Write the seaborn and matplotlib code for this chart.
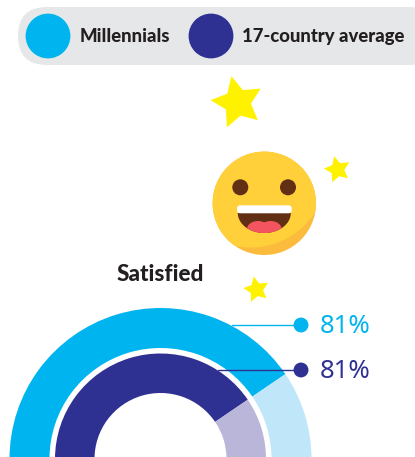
import numpy as np
import seaborn as sns
import pandas as pd
import matplotlib.pyplot as plt
from matplotlib.patches import Circle, Ellipse, FancyBboxPatch, Polygon

# Data
groups = ['Millennials', '17-country average']
satisfied = [81, 81]
title = 'Satisfied'

colors = ['#00b5ef', '#2e3192']
pale_colors = ['#c0e6fa', '#b9b6da']

W, H = 415, 457
sns.set_theme(style='white')
plt.rcParams['font.family'] = ['Lato', 'DejaVu Sans']

fig = plt.figure(figsize=(W / 100, H / 100), dpi=100)
ax = fig.add_axes([0, 0, 1, 1])


def up(y):
    # picture pixels count down from the top, the axes count up
    return H - y


# half donuts, the third slice is the hidden lower half
cx, cy = 160.5, up(459)
rings = [(151, 40), (105.5, 39.5)]
for val, col, pale, (rad, wid) in zip(satisfied, colors, pale_colors, rings):
    ax.pie([val, 100 - val, 100], colors=[col, pale, 'none'], center=(cx, cy), radius=rad,
           startangle=180, counterclock=False, frame=True,
           wedgeprops={'width': wid, 'linewidth': 0})

# legend bar
ax.add_patch(FancyBboxPatch((18, up(65)), 420, 58, boxstyle='round,pad=0,rounding_size=29',
                            fc='#e6e7e8', ec='none'))
legend_df = pd.DataFrame({'x': [48, 211], 'y': [up(36), up(36)], 'group': groups})
sns.scatterplot(data=legend_df, x='x', y='y', hue='group', palette=colors, s=1040,
                linewidth=0, legend=False, ax=ax, zorder=3)
for lx, name in zip([80, 242], groups):
    ax.text(lx, up(42), name, fontsize=13.3, fontweight='black', color='#231f20',
            ha='left', va='baseline')

# leader lines and values
label_y = [325, 370]
line_start = [232, 218]
label_df = pd.DataFrame({'x': [301, 301], 'y': [up(v) for v in label_y], 'group': groups})
for ly, lx, col in zip(label_y, line_start, colors):
    ax.plot([lx, 301], [up(ly), up(ly)], color=col, lw=1, zorder=3)
sns.scatterplot(data=label_df, x='x', y='y', hue='group', palette=colors, s=115,
                linewidth=0, legend=False, ax=ax, zorder=4)
for ly, val, col in zip(label_y, satisfied, colors):
    ax.text(320, up(ly + 8), f'{val}%', fontsize=18.5, color=col, ha='left', va='baseline',
            family=['Noto Sans', 'DejaVu Sans'])

ax.text(160.5, up(281), title, fontsize=16.2, fontweight='black', color='#231f20',
        ha='center', va='baseline')

# stars
for sx, sy, rad, ang in [(236.7, 101.6, 27, 13), (337.4, 169.3, 13.7, 14), (256.4, 289.1, 13.3, 12)]:
    ax.scatter([sx], [up(sy)], marker=(5, 1, ang), s=(2 * rad * 0.72) ** 2, color='#fff200',
               linewidths=0, zorder=3)

# smiley
fx, fy = 264.3, up(203.3)
face = Circle((fx, fy), 51.7, fc='#fbbc3d', ec='none', zorder=3)
ax.add_patch(face)
front = Circle((250.9, up(171.8)), 75.7, fc='#ffd039', ec='none', zorder=3.1)
ax.add_patch(front)
front.set_clip_path(face)
for ex in [240.3, 288]:
    ax.add_patch(Circle((ex, up(187.3)), 8, fc='#602f14', ec='none', zorder=3.2))

t = np.linspace(0, np.pi, 60)
mouth_y = up(213)
mouth = Polygon(np.column_stack([fx + 26.5 * np.cos(t), mouth_y - 20 * np.sin(t)]),
                fc='#602f14', ec='none', zorder=3.2)
ax.add_patch(mouth)
for tx in [258, 270.6]:
    tongue = Ellipse((tx, up(229)), 22, 16, fc='#f4545f', ec='none', zorder=3.3)
    ax.add_patch(tongue)
    tongue.set_clip_path(mouth)
ax.add_patch(FancyBboxPatch((237, up(213.3)), 54.7, 8, boxstyle='round,pad=0,rounding_size=3',
                            fc='white', ec='none', zorder=3.4))

ax.set_xlim(0, W)
ax.set_ylim(0, H)
ax.set_aspect('auto')
ax.axis('off')

fig.savefig('out.png', dpi=100)
